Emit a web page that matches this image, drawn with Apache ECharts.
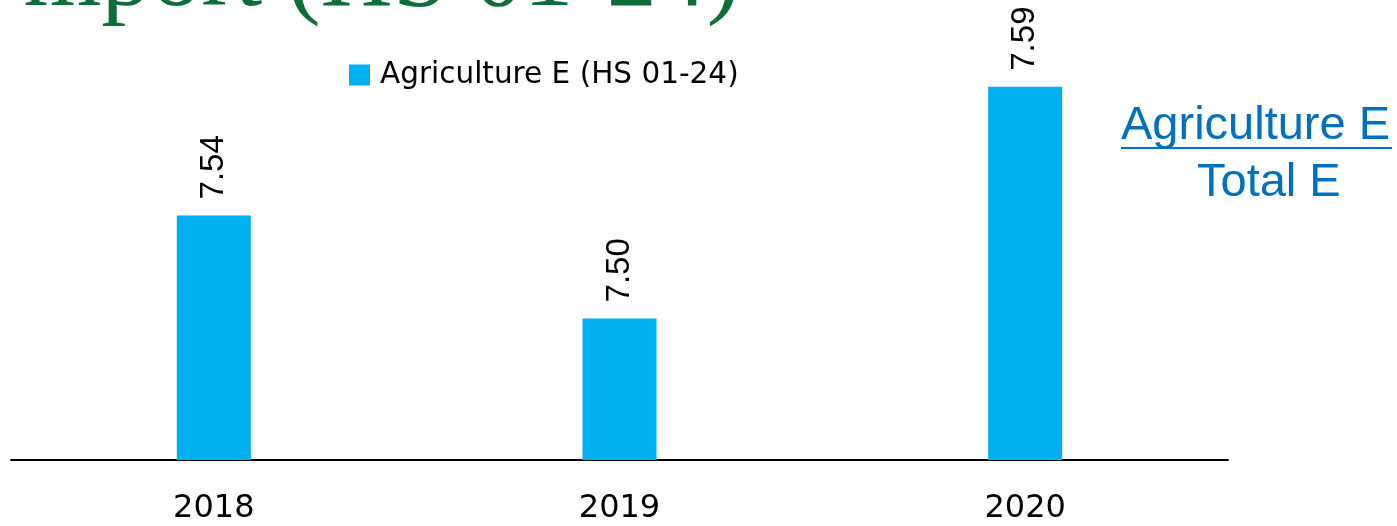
<!DOCTYPE html>
<html>
<head>
<meta charset="utf-8">
<script src="https://cdn.jsdelivr.net/npm/echarts@6/dist/echarts.min.js"></script>
<style>
html,body{margin:0;padding:0;background:#fff;}
#main{width:1397px;height:526px;}
</style>
</head>
<body>
<div id="main"></div>
<script>
const categories = ['2018', '2019', '2020'];
const seriesName = 'Agriculture E (HS 01-24)';
const values = [7.54, 7.50, 7.59];
const titleText = 'mport (HS 01-24)';
const sideTop = 'Agriculture E';
const sideBottom = 'Total E';

const chart = echarts.init(document.getElementById('main'));
chart.setOption({
  animation: false,
  backgroundColor: '#ffffff',
  grid: { left: 11, right: 169, top: 61, bottom: 66, containLabel: false },
  legend: {
    data: [seriesName],
    left: 344,
    top: 55,
    icon: 'rect',
    itemWidth: 21,
    itemHeight: 21,
    textStyle: { fontFamily: 'DejaVu Sans', fontSize: 29.5, color: '#000', padding: [0, 0, 0, 5] }
  },
  xAxis: {
    type: 'category',
    data: categories,
    axisLine: { lineStyle: { color: '#000', width: 2 } },
    axisTick: { show: false },
    axisLabel: { fontFamily: 'DejaVu Sans', fontSize: 32, color: '#000', margin: 33 }
  },
  yAxis: {
    type: 'value',
    min: 7.445,
    max: 7.6,
    show: false,
    splitLine: { show: false }
  },
  series: [{
    name: seriesName,
    type: 'bar',
    data: values,
    barWidth: 74,
    itemStyle: { color: '#00b0f0' },
    label: {
      show: true,
      position: 'top',
      rotate: 90,
      align: 'left',
      verticalAlign: 'middle',
      distance: 16,
      fontFamily: 'Liberation Sans',
      fontSize: 33,
      color: '#000',
      formatter: p => p.value.toFixed(2)
    }
  }],
  graphic: [
    {
      type: 'text', x: 740, y: -21,
      style: { text: titleText, fill: '#0e6e3a', font: '100px "Liberation Serif"', textAlign: 'right', textVerticalAlign: 'middle' }
    },
    {
      type: 'text', x: 1121, y: 126,
      style: { text: sideTop, fill: '#0070c0', font: '47px "Liberation Sans"', textAlign: 'left', textVerticalAlign: 'middle' }
    },
    {
      type: 'line', shape: { x1: 1121, y1: 148, x2: 1392, y2: 148 },
      style: { stroke: '#0070c0', lineWidth: 2 }
    },
    {
      type: 'text', x: 1197, y: 183,
      style: { text: sideBottom, fill: '#0070c0', font: '47px "Liberation Sans"', textAlign: 'left', textVerticalAlign: 'middle' }
    }
  ]
});
</script>
</body>
</html>
